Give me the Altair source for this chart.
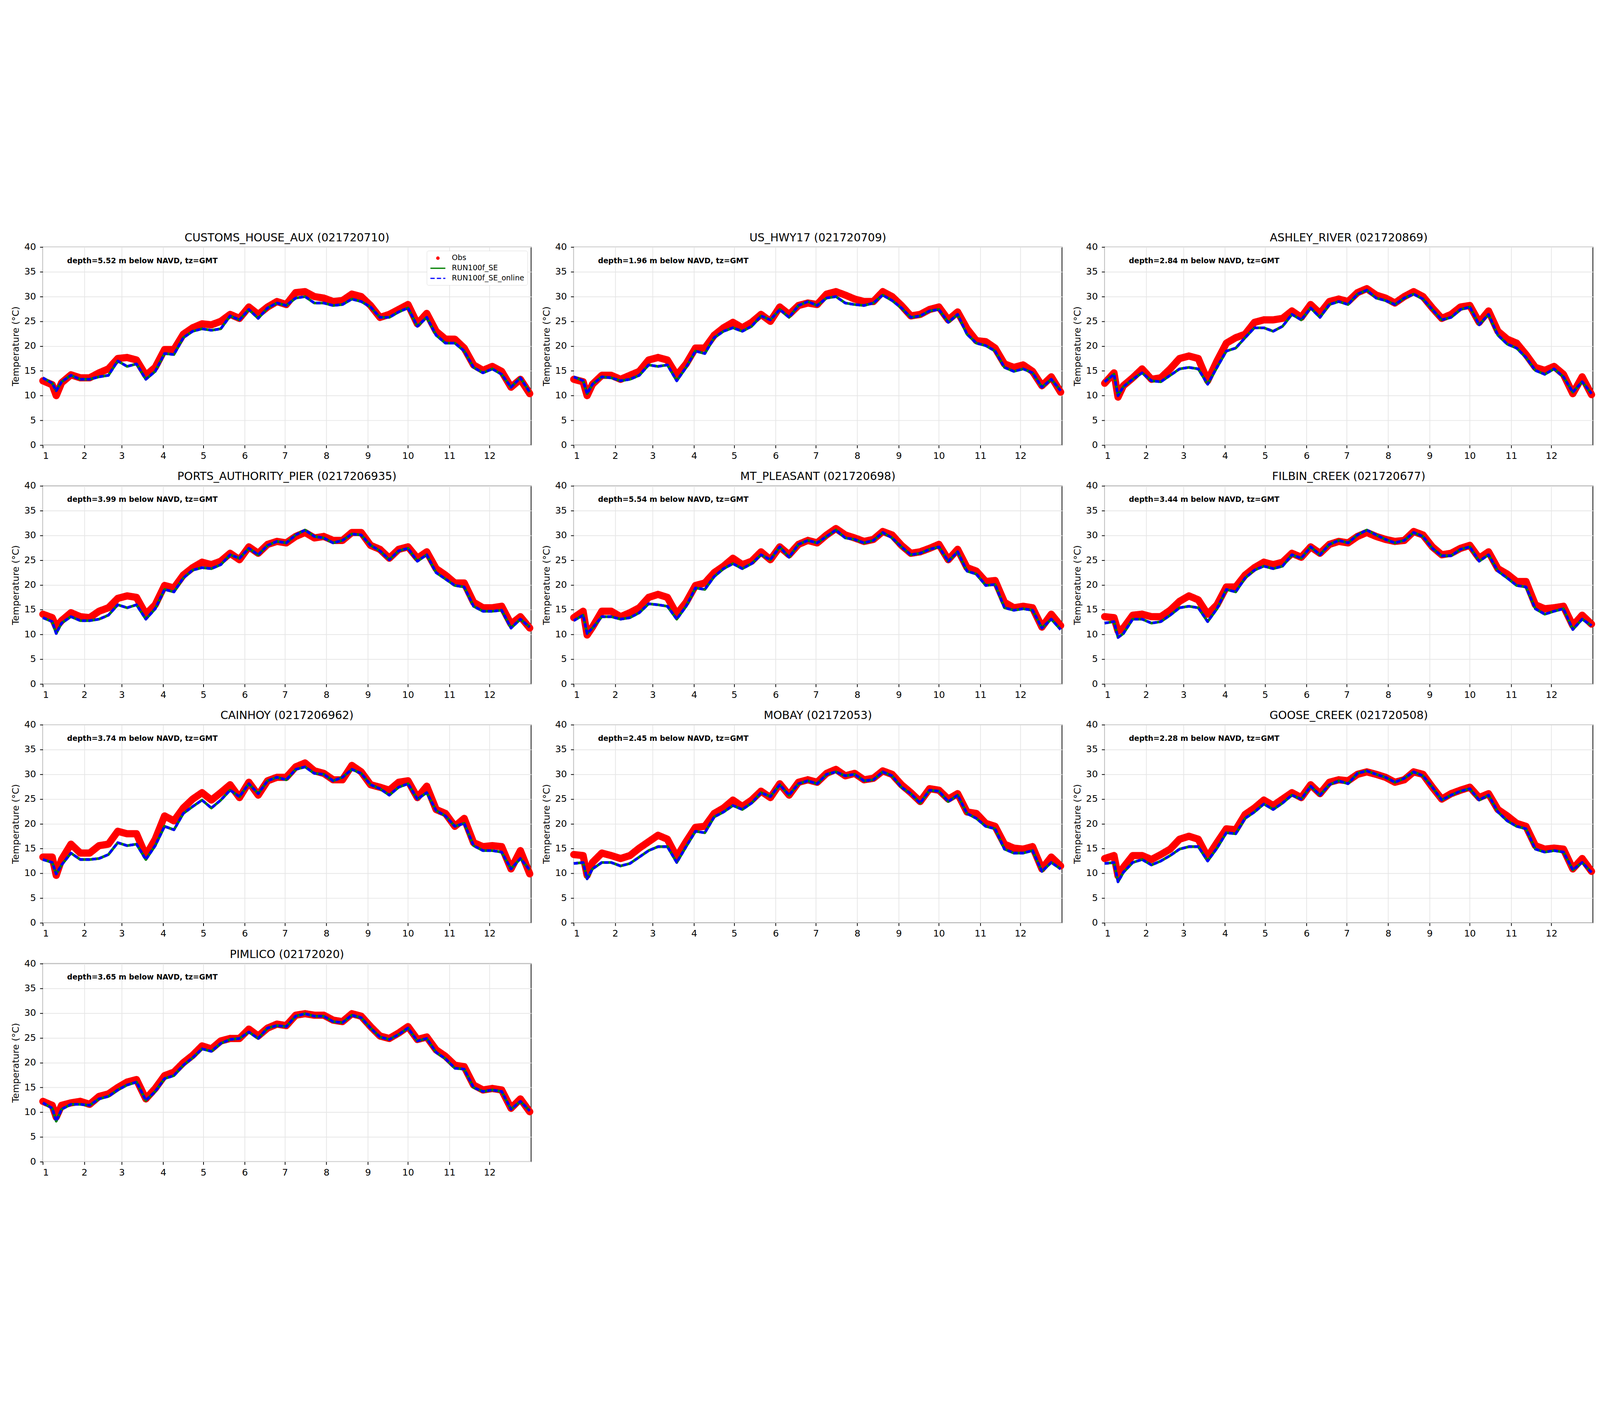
import altair as alt
import pandas as pd

# ---------------- data ----------------
days = [1, 8, 11, 15, 22, 29, 36, 43, 50, 57, 64, 71, 78, 85, 92, 99, 106,
        113, 120, 127, 134, 141, 148, 155, 162, 169, 176, 183, 190, 197, 204,
        211, 218, 225, 232, 239, 246, 253, 260, 267, 274, 281, 288, 295, 302,
        309, 316, 323, 330, 337, 344, 351, 358, 365]

month_starts = [1, 32, 60, 91, 121, 152, 182, 213, 244, 274, 305, 335]

series_names = ["Obs", "RUN100f_SE", "RUN100f_SE_online"]
series_colors = ["#ff0000", "#008000", "#0000ff"]

station_names = ["CUSTOMS_HOUSE_AUX", "US_HWY17", "ASHLEY_RIVER",
                 "PORTS_AUTHORITY_PIER", "MT_PLEASANT", "FILBIN_CREEK",
                 "CAINHOY", "MOBAY", "GOOSE_CREEK", "PIMLICO"]
station_ids = ["021720710", "021720709", "021720869", "0217206935",
               "021720698", "021720677", "0217206962", "02172053",
               "021720508", "02172020"]
depths = ["5.52", "1.96", "2.84", "3.99", "5.54", "3.44", "3.74", "2.45",
          "2.28", "3.65"]

obs_customs = [13.0, 12.2, 10.0, 12.6, 14.2, 13.6, 13.6, 14.6, 15.4, 17.5, 17.7, 17.2, 14.1, 15.7, 19.3, 19.3, 22.4, 23.7, 24.5, 24.3, 25.0, 26.4, 25.6, 27.9, 26.4, 27.9, 29.0, 28.4, 30.8, 31.0, 30.0, 29.7, 29.0, 29.2, 30.5, 30.0, 28.2, 25.8, 26.4, 27.4, 28.4, 24.5, 26.6, 23.0, 21.4, 21.4, 19.6, 16.2, 15.1, 15.9, 14.9, 11.7, 13.3, 10.4]
mod_customs = [13.6, 12.5, 11.0, 12.8, 14.1, 13.3, 13.3, 13.8, 14.1, 17.0, 15.9, 16.4, 13.3, 14.9, 18.5, 18.3, 21.7, 23.0, 23.5, 23.2, 23.5, 26.1, 25.3, 27.4, 25.6, 27.7, 28.7, 28.2, 29.7, 30.0, 28.7, 28.7, 28.2, 28.4, 29.5, 29.0, 27.9, 25.8, 25.8, 26.9, 27.7, 24.0, 25.8, 22.2, 20.6, 20.6, 19.0, 15.7, 14.6, 15.4, 14.3, 11.7, 13.6, 10.7]

obs_hwy17 = [13.3, 12.8, 10.0, 12.3, 14.1, 14.1, 13.3, 14.1, 14.9, 17.2, 17.7, 17.2, 14.1, 16.4, 19.6, 19.6, 22.2, 23.7, 24.8, 23.7, 24.8, 26.4, 25.0, 27.9, 26.4, 28.2, 28.7, 28.4, 30.5, 31.0, 30.3, 29.5, 29.0, 29.0, 31.0, 30.0, 28.2, 26.1, 26.4, 27.4, 27.9, 25.3, 26.9, 23.5, 21.1, 20.9, 19.6, 16.4, 15.7, 16.2, 14.9, 12.0, 13.8, 10.7]
mod_hwy17 = [13.8, 13.0, 10.4, 12.3, 13.8, 13.6, 13.0, 13.3, 14.1, 16.2, 15.9, 16.2, 13.0, 15.7, 19.0, 18.5, 21.7, 23.0, 23.7, 23.0, 24.0, 26.1, 25.3, 27.4, 25.8, 28.2, 29.0, 28.2, 29.7, 30.0, 28.7, 28.4, 28.2, 28.7, 30.3, 29.2, 27.7, 25.8, 26.1, 27.1, 27.4, 24.8, 26.4, 22.4, 20.6, 20.1, 19.0, 15.7, 14.9, 15.4, 14.6, 11.7, 13.3, 11.0]

obs_ashley = [12.5, 14.6, 9.7, 12.0, 13.6, 15.4, 13.3, 13.6, 15.4, 17.5, 18.0, 17.5, 13.0, 17.0, 20.6, 21.7, 22.4, 24.8, 25.3, 25.3, 25.6, 27.1, 25.8, 28.4, 26.6, 29.0, 29.5, 29.0, 30.8, 31.6, 30.3, 29.7, 28.7, 30.0, 31.0, 30.0, 27.7, 25.6, 26.4, 27.9, 28.2, 24.8, 27.1, 23.0, 21.4, 20.6, 18.3, 15.7, 15.1, 15.9, 14.3, 10.4, 13.8, 10.2]
mod_ashley = [12.8, 14.3, 10.0, 11.8, 13.3, 14.6, 13.0, 12.8, 14.1, 15.4, 15.7, 15.4, 12.3, 15.7, 19.0, 19.6, 21.7, 23.7, 23.7, 23.0, 24.0, 26.4, 25.3, 27.7, 25.8, 28.4, 29.0, 28.4, 30.5, 31.3, 29.7, 29.2, 28.4, 29.7, 30.5, 29.5, 27.4, 25.3, 25.8, 27.4, 27.9, 24.3, 26.4, 22.2, 20.4, 19.6, 17.7, 15.1, 14.3, 15.4, 13.8, 10.7, 12.8, 10.4]

obs_ports = [14.1, 13.4, 11.5, 12.8, 14.4, 13.6, 13.4, 14.7, 15.4, 17.3, 17.8, 17.5, 14.1, 16.0, 19.9, 19.4, 22.0, 23.5, 24.6, 24.1, 24.8, 26.4, 25.1, 27.7, 26.4, 28.2, 28.8, 28.5, 29.8, 30.6, 29.5, 29.8, 29.0, 29.0, 30.6, 30.6, 28.0, 27.2, 25.4, 27.2, 27.7, 25.4, 26.7, 23.3, 22.0, 20.4, 20.4, 16.5, 15.4, 15.4, 15.7, 12.1, 13.6, 11.3]
mod_ports = [13.4, 12.6, 10.2, 12.3, 13.6, 12.8, 12.8, 13.1, 13.9, 16.0, 15.4, 16.0, 13.1, 15.2, 19.1, 18.6, 21.4, 23.0, 23.5, 23.3, 24.1, 26.1, 25.4, 27.4, 26.1, 28.0, 28.8, 28.5, 30.1, 31.1, 29.8, 29.5, 28.5, 29.0, 30.3, 30.1, 28.0, 26.9, 25.1, 26.9, 27.4, 24.8, 26.1, 22.5, 21.2, 19.9, 19.6, 15.7, 14.7, 14.7, 14.9, 11.3, 13.1, 11.5]

obs_mtp = [13.4, 14.7, 9.9, 11.5, 14.7, 14.7, 13.6, 14.4, 15.4, 17.5, 18.1, 17.5, 14.1, 16.5, 19.9, 20.4, 22.5, 23.8, 25.4, 24.1, 24.8, 26.7, 25.1, 27.7, 26.1, 28.2, 29.0, 28.5, 30.1, 31.4, 30.1, 29.5, 28.8, 29.2, 30.8, 30.1, 28.0, 26.4, 26.7, 27.4, 28.2, 25.1, 27.2, 23.5, 22.8, 20.7, 20.9, 16.5, 15.4, 15.7, 15.4, 11.5, 14.1, 11.8]
mod_mtp = [12.8, 13.9, 10.2, 11.3, 13.6, 13.6, 13.1, 13.4, 14.4, 16.2, 16.0, 15.7, 13.1, 15.7, 19.4, 19.1, 21.7, 23.3, 24.3, 23.3, 24.3, 26.1, 25.1, 27.7, 25.6, 28.2, 29.0, 28.5, 29.8, 31.1, 29.5, 29.2, 28.5, 29.0, 30.6, 29.5, 27.7, 26.1, 26.4, 27.2, 27.7, 24.8, 26.7, 22.8, 22.2, 19.9, 20.1, 15.4, 14.9, 15.2, 14.9, 11.3, 13.1, 11.0]

obs_filbin = [13.6, 13.4, 10.7, 11.3, 13.9, 14.1, 13.6, 13.6, 14.9, 16.7, 17.8, 17.0, 14.1, 16.0, 19.6, 19.6, 22.0, 23.5, 24.6, 24.1, 24.6, 26.4, 25.6, 27.7, 26.4, 28.2, 28.8, 28.5, 29.8, 30.6, 29.8, 29.2, 28.8, 29.0, 30.8, 30.1, 27.7, 26.1, 26.4, 27.4, 28.0, 25.4, 26.7, 23.3, 22.2, 20.7, 20.7, 16.0, 15.2, 15.4, 15.7, 11.8, 13.9, 12.1]
mod_filbin = [12.3, 12.6, 9.4, 10.2, 13.1, 13.1, 12.3, 12.6, 13.9, 15.4, 15.7, 15.4, 12.6, 15.2, 19.1, 18.6, 21.4, 23.0, 23.8, 23.3, 23.8, 26.1, 25.4, 27.7, 26.1, 28.2, 29.0, 28.5, 30.1, 31.1, 30.1, 29.2, 28.5, 29.0, 30.6, 29.8, 27.4, 25.9, 25.9, 27.2, 27.7, 24.8, 26.1, 22.8, 21.4, 19.9, 19.6, 15.2, 14.1, 14.7, 15.2, 11.0, 13.1, 11.8]

obs_cainhoy = [13.3, 13.3, 9.6, 12.8, 15.9, 14.1, 14.1, 15.6, 15.9, 18.5, 18.0, 18.0, 13.6, 16.9, 21.6, 20.6, 23.2, 25.0, 26.3, 24.8, 26.3, 27.9, 25.3, 28.4, 25.8, 28.7, 29.4, 29.4, 31.5, 32.3, 30.7, 30.2, 28.9, 28.9, 31.8, 30.5, 27.9, 27.4, 26.8, 28.4, 28.7, 25.3, 27.6, 22.9, 22.1, 19.5, 21.1, 16.2, 15.4, 15.6, 15.4, 10.9, 14.6, 9.9]
mod_cainhoy = [12.8, 12.2, 9.9, 11.7, 14.1, 12.8, 12.8, 13.0, 13.8, 16.2, 15.6, 15.9, 12.8, 15.6, 19.5, 18.8, 22.1, 23.5, 24.8, 23.2, 24.8, 26.8, 25.5, 28.1, 26.1, 28.7, 29.4, 28.9, 31.0, 31.5, 30.2, 30.0, 28.7, 29.4, 31.0, 30.2, 27.9, 27.1, 25.8, 27.4, 28.1, 25.0, 26.3, 22.7, 21.6, 19.5, 20.1, 15.6, 14.6, 14.6, 14.3, 10.9, 13.0, 10.7]

obs_mobay = [13.8, 13.6, 9.6, 12.2, 14.1, 13.6, 13.0, 13.6, 15.1, 16.4, 17.7, 16.9, 13.3, 16.4, 19.3, 19.5, 22.1, 23.2, 24.8, 23.5, 24.8, 26.6, 25.3, 28.1, 25.8, 28.4, 28.9, 28.4, 30.2, 31.0, 29.7, 30.2, 28.9, 29.2, 30.7, 30.0, 27.9, 26.3, 24.5, 27.1, 26.8, 25.0, 26.1, 22.4, 22.1, 20.1, 19.5, 15.9, 15.1, 14.9, 15.4, 10.9, 13.3, 11.5]
mod_mobay = [12.0, 12.2, 8.9, 10.9, 12.2, 12.2, 11.5, 12.0, 13.3, 14.6, 15.4, 15.4, 12.2, 15.4, 18.5, 18.2, 21.4, 22.4, 23.7, 22.9, 24.2, 26.3, 25.5, 27.9, 25.8, 28.1, 28.7, 28.1, 30.0, 30.5, 29.7, 30.0, 28.7, 28.9, 30.5, 29.7, 27.4, 26.1, 24.2, 26.8, 26.6, 24.5, 25.8, 22.1, 21.1, 19.5, 19.0, 14.9, 14.1, 14.1, 14.6, 10.4, 12.2, 10.9]

obs_goose = [13.0, 13.6, 9.5, 11.2, 13.6, 13.6, 12.8, 13.8, 14.9, 16.9, 17.5, 16.9, 13.3, 16.2, 19.0, 18.8, 21.9, 23.2, 24.8, 23.7, 25.0, 26.3, 25.3, 27.9, 26.1, 28.4, 28.9, 28.7, 30.0, 30.5, 30.0, 29.4, 28.4, 28.9, 30.5, 30.0, 27.4, 25.0, 26.1, 26.8, 27.4, 25.3, 26.1, 22.9, 21.6, 20.1, 19.5, 15.6, 14.9, 15.1, 14.9, 10.9, 13.0, 10.4]
mod_goose = [12.0, 12.2, 8.3, 10.2, 12.2, 12.8, 11.7, 12.5, 13.6, 14.9, 15.4, 15.4, 12.5, 15.1, 18.2, 18.0, 21.1, 22.4, 24.0, 22.9, 24.2, 25.8, 25.0, 27.6, 25.8, 27.9, 28.7, 28.1, 30.2, 30.7, 30.0, 29.4, 28.4, 29.2, 30.5, 29.7, 27.4, 24.8, 25.8, 26.6, 27.1, 24.8, 25.8, 22.4, 20.6, 19.5, 19.0, 14.9, 14.3, 14.6, 14.3, 10.7, 12.2, 10.2]

obs_pimlico = [12.2, 11.4, 9.0, 11.4, 11.9, 12.2, 11.6, 13.2, 13.7, 15.0, 16.1, 16.6, 12.7, 14.8, 17.4, 18.1, 20.0, 21.5, 23.4, 22.8, 24.4, 24.9, 24.9, 26.8, 25.4, 27.0, 27.8, 27.5, 29.6, 29.9, 29.6, 29.6, 28.6, 28.3, 29.9, 29.4, 27.3, 25.4, 24.9, 26.0, 27.3, 24.7, 25.2, 22.6, 21.3, 19.5, 19.2, 15.5, 14.5, 14.8, 14.5, 10.8, 12.7, 10.1]
mod_pimlico = [11.9, 10.8, 8.2, 10.6, 11.6, 11.6, 11.4, 12.7, 13.2, 14.5, 15.5, 16.1, 12.4, 14.2, 16.8, 17.4, 19.5, 21.0, 22.8, 22.3, 23.9, 24.7, 24.9, 26.2, 24.9, 27.0, 27.5, 27.3, 29.4, 29.9, 29.4, 29.4, 28.3, 28.1, 29.6, 29.1, 27.0, 25.2, 24.7, 25.7, 27.0, 24.4, 24.9, 22.1, 20.8, 18.9, 18.7, 15.0, 14.2, 14.5, 14.2, 10.6, 12.2, 10.3]

obs_all = [obs_customs, obs_hwy17, obs_ashley, obs_ports, obs_mtp,
           obs_filbin, obs_cainhoy, obs_mobay, obs_goose, obs_pimlico]
mod_all = [mod_customs, mod_hwy17, mod_ashley, mod_ports, mod_mtp,
           mod_filbin, mod_cainhoy, mod_mobay, mod_goose, mod_pimlico]

# ---------------- chart ----------------
FONT = "DejaVu Sans"
PW, PH = 1831, 743

month_expr = ("'' + (indexof([1, 32, 60, 91, 121, 152, 182, 213, 244, 274, 305, 335], "
              "datum.value) + 1)")

IS_OBS = "datum.value === 'Obs'"
DOT_PATH = "M-0.3,0A0.3,0.3 0 1,0 0.3,0A0.3,0.3 0 1,0 -0.3,0Z"
LINE_PATH = "M-2,0H2"


def make_legend():
    return alt.Legend(
        title=None, orient="top-right", offset=14, padding=11,
        fillColor="white", strokeColor="#cccccc", cornerRadius=6,
        labelFont=FONT, labelFontSize=27.8, labelColor="black", labelLimit=600,
        labelOffset=36, symbolOffset=14, rowPadding=7,
        symbolSize=784, symbolStrokeWidth=4.5,
        symbolType={"expr": f"{IS_OBS} ? '{DOT_PATH}' : '{LINE_PATH}'"},
        symbolFillColor={"expr": f"{IS_OBS} ? '#ff0000' : 'transparent'"},
    )


def panel(i):
    obs = obs_all[i]
    mod = mod_all[i]
    n = len(days)
    df = pd.DataFrame({
        "day": days * 3,
        "temp": obs + mod + mod,
        "series": ["Obs"] * n + ["RUN100f_SE"] * n + ["RUN100f_SE_online"] * n,
    })
    base = alt.Chart(df)
    leg = make_legend() if i == 0 else None
    color = alt.Color("series:N", scale=alt.Scale(domain=series_names, range=series_colors),
                      legend=leg)
    dash = alt.StrokeDash("series:N",
                          scale=alt.Scale(domain=series_names,
                                          range=[[1, 0], [1, 0], [16, 8]]),
                          legend=leg)
    x = alt.X("day:Q", scale=alt.Scale(domain=[1, 366], nice=False, zero=False),
              axis=alt.Axis(values=month_starts, labelExpr=month_expr, title=None,
                            labelPadding=13))
    y = alt.Y("temp:Q", scale=alt.Scale(domain=[0, 40], nice=False),
              axis=alt.Axis(values=[0, 5, 10, 15, 20, 25, 30, 35, 40],
                            title="Temperature (°C)", labelPadding=15))

    obs_line = base.transform_filter(alt.datum.series == "Obs").mark_line(
        strokeWidth=27, strokeCap="round", strokeJoin="round").encode(x=x, y=y, color=color,
                                                                      strokeDash=dash)
    green_line = base.transform_filter(alt.datum.series == "RUN100f_SE").mark_line(
        strokeWidth=10, strokeJoin="round").encode(x=x, y=y, color=color, strokeDash=dash)
    blue_line = base.transform_filter(alt.datum.series == "RUN100f_SE_online").mark_line(
        strokeWidth=10, strokeJoin="round").encode(x=x, y=y, color=color, strokeDash=dash)

    label = pd.DataFrame({"t": [f"depth={depths[i]} m below NAVD, tz=GMT"]})
    text = alt.Chart(label).mark_text(
        align="left", baseline="alphabetic", font=FONT, fontSize=27.8,
        fontWeight="bold", color="black").encode(
        text="t:N", x=alt.value(91), y=alt.value(60))

    return alt.layer(obs_line, green_line, blue_line, text).properties(
        width=PW, height=PH,
        title=alt.Title(f"{station_names[i]} ({station_ids[i]})"),
    )


panels = [panel(i) for i in range(len(station_names))]

chart = alt.concat(*panels, columns=3, spacing={"row": 36, "column": 29}).resolve_scale(
    color="independent", strokeDash="independent"
).properties(
    padding={"left": 28, "top": 26, "right": 5, "bottom": 5},
    background="white",
).configure_view(
    stroke="black", strokeWidth=2.8
).configure_axis(
    labelFont=FONT, labelFontSize=34.7, labelColor="black",
    titleFont=FONT, titleFontSize=34.7, titleFontWeight="normal", titleColor="black",
    titlePadding=14, tickColor="black", tickWidth=2.8, tickSize=11,
    gridColor="#e6e6e6", gridWidth=2.8, domain=False,
).configure_title(
    font=FONT, fontSize=41.7, fontWeight="normal", color="black", offset=-5,
    anchor="middle",
)

chart.save("out.html", embed_options={"renderer": "svg", "actions": False})
